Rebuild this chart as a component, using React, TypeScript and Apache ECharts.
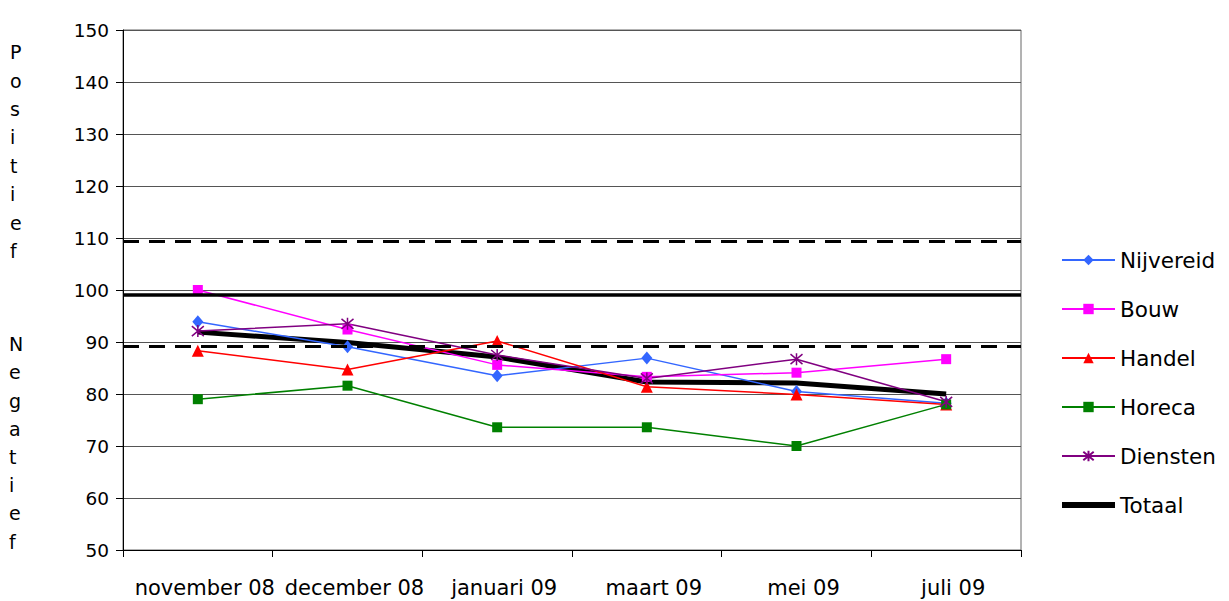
import React, { useEffect, useRef } from "react";
import * as echarts from "echarts";

const categories = ["november 08", "december 08", "januari 09", "maart 09", "mei 09", "juli 09"];
const nijvereid = [93.9, 89.1, 83.5, 86.9, 80.5, 78.2];
const bouw = [100, 92.4, 85.6, 83.3, 84.1, 86.7];
const handel = [88.3, 84.7, 90.2, 81.4, 79.9, 78.0];
const horeca = [79.0, 81.6, 73.6, 73.6, 70.0, 78.0];
const diensten = [92.1, 93.5, 87.5, 83.0, 86.7, 78.5];
const totaal = [91.9, 89.9, 87.1, 82.3, 82.1, 80.0];
const upperBand = 109.3;
const midLine = 99.1;
const lowerBand = 89.1;

const FONT = "DejaVu Sans";
const STAR = "path://M0,0L10,10M10,0L0,10M5,-1L5,11";

export default function App() {
  const ref = useRef<HTMLDivElement>(null);
  useEffect(() => {
    if (!ref.current) return;
    const chart = echarts.init(ref.current, undefined, { renderer: "svg" });
    const mk = (name: string, data: number[], color: string, symbol: string, size: any, extra: any = {}) => ({
      name,
      type: "line",
      data,
      symbol,
      symbolSize: size,
      lineStyle: { color, width: 1.5 },
      itemStyle: { color },
      z: 3,
      ...extra,
    });
    chart.setOption({
      animation: false,
      textStyle: { fontFamily: FONT },
      grid: { left: 123, right: 208, top: 30, bottom: 51, show: true, borderColor: "#666", borderWidth: 1 },
      xAxis: {
        type: "category",
        data: categories,
        boundaryGap: true,
        axisLine: { lineStyle: { color: "#000", width: 1 } },
        axisTick: { show: true, length: 7, interval: 0, lineStyle: { color: "#000" } },
        axisLabel: {
          color: "#000",
          fontSize: 21,
          margin: 27,
          interval: 0,
          fontFamily: FONT,
          padding: [0, 0, 0, 14],
        },
        splitLine: { show: false },
      },
      yAxis: {
        type: "value",
        min: 50,
        max: 150,
        interval: 10,
        axisLine: { show: true, lineStyle: { color: "#000", width: 1 } },
        axisTick: { show: true, length: 7, lineStyle: { color: "#000" } },
        axisLabel: { color: "#000", fontSize: 18.5, margin: 14, fontFamily: FONT },
        splitLine: { show: true, lineStyle: { color: "#555", width: 1 } },
      },
      legend: {
        orient: "vertical",
        left: 1056,
        top: 243,
        itemWidth: 53,
        itemHeight: 13,
        itemGap: 25,
        textStyle: { color: "#000", fontSize: 21.5, fontFamily: FONT, lineHeight: 24 },
        data: [
          "Nijvereid",
          "Bouw",
          "Handel",
          "Horeca",
          "Diensten",
          { name: "Totaal", icon: "path://M0,0H53V6H0Z", itemStyle: { color: "#000" } },
        ],
      },
      graphic: [
        {
          type: "text",
          left: 10,
          top: 38,
          style: {
            text: "P\no\ns\ni\nt\ni\ne\nf",
            fontSize: 19,
            lineHeight: 28.4,
            fontFamily: FONT,
            fill: "#000",
            align: "center",
          },
        },
        {
          type: "text",
          left: 9,
          top: 330,
          style: {
            text: "N\ne\ng\na\nt\ni\ne\nf",
            fontSize: 19,
            lineHeight: 28.2,
            fontFamily: FONT,
            fill: "#000",
            align: "center",
          },
        },
      ],
      series: [
        mk("Nijvereid", nijvereid, "#3366FF", "diamond", [11, 13]),
        mk("Bouw", bouw, "#FF00FF", "rect", 10),
        mk("Handel", handel, "#FF0000", "triangle", 12),
        mk("Horeca", horeca, "#008000", "rect", 10),
        mk("Diensten", diensten, "#800080", STAR, 12, {
          itemStyle: { color: "#800080", borderColor: "#800080", borderWidth: 1.5 },
        }),
        {
          name: "Totaal",
          type: "line",
          data: totaal,
          symbol: "none",
          z: 2,
          lineStyle: { color: "#000", width: 5 },
          itemStyle: { color: "#000" },
          markLine: {
            silent: true,
            symbol: "none",
            label: { show: false },
            data: [
              { yAxis: upperBand, lineStyle: { color: "#000", width: 3, type: [16, 10] } },
              { yAxis: midLine, lineStyle: { color: "#000", width: 3.5, type: "solid" } },
              { yAxis: lowerBand, lineStyle: { color: "#000", width: 3, type: [16, 10] } },
            ],
          },
        },
      ],
    });
    return () => chart.dispose();
  }, []);
  return <div ref={ref} style={{ width: 1229, height: 601, position: "absolute", left: 0, top: 0 }} />;
}
